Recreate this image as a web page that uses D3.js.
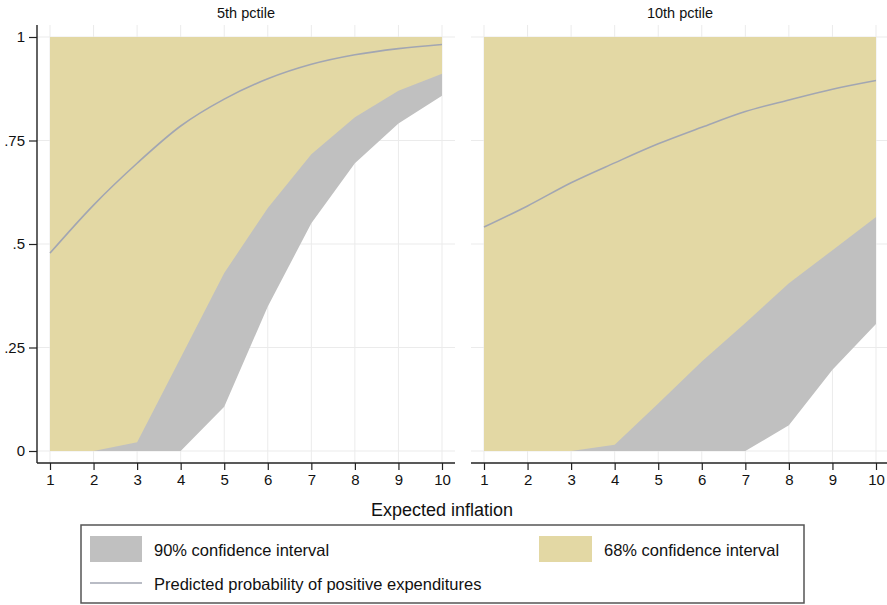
<!DOCTYPE html>
<html><head><meta charset="utf-8">
<script src="https://cdn.jsdelivr.net/npm/d3@7"></script>
<style>body{margin:0;background:#fff}svg{display:block;font-family:"Liberation Sans",Arial,sans-serif}</style>
</head><body><svg id="c" width="887" height="605"></svg>
<script>
const xs = [1,2,3,4,5,6,7,8,9,10];
const panelTitles = ["5th pctile","10th pctile"];
const yTicks = [0,0.25,0.5,0.75,1];
const yTickLabels = ["0",".25",".5",".75","1"];
// 5th percentile
const p5_pred  = [0.478,0.594,0.695,0.785,0.850,0.899,0.934,0.957,0.972,0.982];
const p5_lo68  = [0,0,0.021,0.225,0.43,0.587,0.717,0.806,0.870,0.911];
const p5_hi68  = [1,1,1,1,1,1,1,1,1,1];
const p5_lo90  = [0,0,0,0,0.107,0.349,0.55,0.695,0.791,0.858];
const p5_hi90  = [1,1,1,1,1,1,1,1,1,1];
// 10th percentile
const p10_pred = [0.541,0.592,0.648,0.696,0.742,0.782,0.820,0.848,0.874,0.895];
const p10_lo68 = [0,0,0,0.015,0.115,0.216,0.309,0.405,0.485,0.565];
const p10_hi68 = [1,1,1,1,1,1,1,1,1,1];
const p10_lo90 = [0,0,0,0,0,0,0,0.062,0.196,0.307];
const p10_hi90 = [1,1,1,1,1,1,1,1,1,1];

const legendLabels = ["90% confidence interval","68% confidence interval","Predicted probability of positive expenditures"];
const xTitle = "Expected inflation";

const colBeige = "#e3d8a4", colGray = "#c0c0c0", colLine = "#a2a6b2", colGrid = "#ebebeb";

const svg = d3.select("#c");
const panels = [
  {title:panelTitles[0], left:37, pred:p5_pred, lo68:p5_lo68, hi68:p5_hi68, lo90:p5_lo90, hi90:p5_hi90, yaxis:true},
  {title:panelTitles[1], left:471, pred:p10_pred, lo68:p10_lo68, hi68:p10_hi68, lo90:p10_lo90, hi90:p10_hi90, yaxis:false}
];
const pw = 418, plotTop = 25, plotBottom = 463;
const y = d3.scaleLinear().domain([0,1]).range([451,37]);

panels.forEach(p => {
  const x = d3.scaleLinear().domain([1,10]).range([p.left+13, p.left+pw-13]);
  const g = svg.append("g");
  g.selectAll(".vg").data(xs).join("line")
    .attr("x1",d=>x(d)).attr("x2",d=>x(d)).attr("y1",plotTop).attr("y2",plotBottom)
    .attr("stroke",colGrid).attr("stroke-width",1);
  g.selectAll(".hg").data(yTicks).join("line")
    .attr("x1",p.left).attr("x2",p.left+pw).attr("y1",d=>y(d)).attr("y2",d=>y(d))
    .attr("stroke",colGrid).attr("stroke-width",1);
  const d90 = xs.map((v,i)=>({x:v,lo:p.lo90[i],hi:p.hi90[i]}));
  const d68 = xs.map((v,i)=>({x:v,lo:p.lo68[i],hi:p.hi68[i]}));
  const area = d3.area().x(d=>x(d.x)).y0(d=>y(d.lo)).y1(d=>y(d.hi));
  g.append("path").datum(d90).attr("d",area).attr("fill",colGray);
  g.append("path").datum(d68).attr("d",area).attr("fill",colBeige);
  g.append("path").datum(xs.map((v,i)=>({x:v,y:p.pred[i]})))
    .attr("d",d3.line().x(d=>x(d.x)).y(d=>y(d.y)).curve(d3.curveMonotoneX))
    .attr("fill","none").attr("stroke",colLine).attr("stroke-width",1.6);
  const xa = g.append("g").attr("transform",`translate(0,${plotBottom})`)
    .call(d3.axisBottom(x).tickValues(xs).tickFormat(d3.format("d")).tickSize(7).tickSizeOuter(0));
  xa.select(".domain").remove();
  xa.append("line").attr("x1",p.left).attr("x2",p.left+pw).attr("stroke","#222").attr("stroke-width",1.4);
  xa.selectAll(".tick line").attr("stroke","#222").attr("stroke-width",1.2);
  xa.selectAll(".tick text").attr("font-size",15).attr("fill","#111").attr("dy","0.75em").attr("y",11).attr("font-family","Liberation Sans, Arial");
  if (p.yaxis) {
    const ya = g.append("g").attr("transform",`translate(${p.left},0)`)
      .call(d3.axisLeft(y).tickValues(yTicks).tickFormat((d,i)=>yTickLabels[i]).tickSize(8).tickSizeOuter(0));
    ya.select(".domain").remove();
    ya.append("line").attr("y1",plotTop).attr("y2",plotBottom).attr("stroke","#222").attr("stroke-width",1.4);
    ya.selectAll(".tick line").attr("stroke","#222").attr("stroke-width",1.2);
    ya.selectAll(".tick text").attr("font-size",15).attr("fill","#111").attr("x",-12).attr("font-family","Liberation Sans, Arial");
  }
  g.append("text").attr("x",p.left+pw/2).attr("y",18).attr("text-anchor","middle")
    .attr("font-size",14.5).attr("fill","#111").text(p.title);
});

svg.append("text").attr("x",442).attr("y",516).attr("text-anchor","middle")
  .attr("font-size",18).attr("fill","#111").text(xTitle);

const lg = svg.append("g");
lg.append("rect").attr("x",81).attr("y",525).attr("width",723).attr("height",78)
  .attr("fill","#fff").attr("stroke","#555").attr("stroke-width",1.5);
lg.append("rect").attr("x",90).attr("y",536).attr("width",52).attr("height",26).attr("fill",colGray);
lg.append("text").attr("x",154).attr("y",556).attr("font-size",16.5).attr("fill","#111").text(legendLabels[0]);
lg.append("rect").attr("x",539).attr("y",536).attr("width",53).attr("height",26).attr("fill",colBeige);
lg.append("text").attr("x",604).attr("y",556).attr("font-size",16.5).attr("fill","#111").text(legendLabels[1]);
lg.append("line").attr("x1",90).attr("x2",142).attr("y1",583).attr("y2",583).attr("stroke",colLine).attr("stroke-width",1.6);
lg.append("text").attr("x",154).attr("y",590).attr("font-size",16.5).attr("fill","#111").text(legendLabels[2]);
</script></body></html>
